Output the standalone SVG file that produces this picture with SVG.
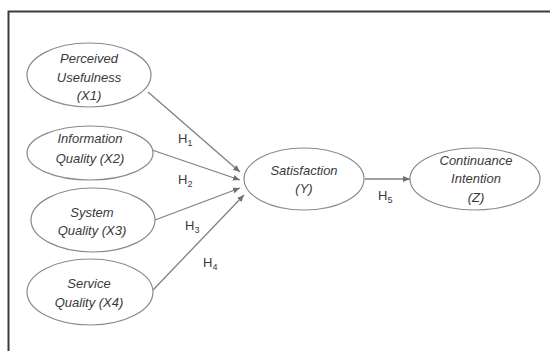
<svg xmlns="http://www.w3.org/2000/svg" width="550" height="351" viewBox="0 0 550 351">
<style>
.n ellipse{fill:#fff;stroke:#8a8a8a;stroke-width:1.2}
.n text{font-family:"Liberation Sans",Arial,sans-serif;font-style:italic;font-size:13px;fill:#3a3a3a;text-anchor:middle}
.c line{stroke:#808080;stroke-width:1.3;marker-end:url(#ah)}
.h{font-family:"Liberation Sans",Arial,sans-serif;font-size:13px;fill:#3a3a3a}
.h tspan{font-size:9px}
</style>
<defs>
<marker id="ah" markerWidth="8" markerHeight="8" refX="7" refY="4" orient="auto" markerUnits="userSpaceOnUse">
<path d="M0,1 L7,4 L0,7 z" fill="#707070"/>
</marker>
</defs>
<rect width="550" height="351" fill="#fff"/>
<path d="M8.5,351 V11.5 H550" fill="none" stroke="#3c3c3c" stroke-width="2"/>
<g class="c">
<line x1="148" y1="92" x2="240" y2="172"/>
<line x1="152" y1="150" x2="240" y2="180"/>
<line x1="155" y1="220" x2="240" y2="188"/>
<line x1="153" y1="290" x2="244" y2="195"/>
<line x1="365" y1="179" x2="410" y2="179"/>
</g>
<g id="x1" class="n"><ellipse cx="89" cy="75" rx="62" ry="32"/><text x="89" y="63">Perceived</text><text x="89" y="82">Usefulness</text><text x="89" y="100">(X1)</text></g>
<g id="x2" class="n"><ellipse cx="90" cy="153" rx="63" ry="27"/><text x="90" y="143">Information</text><text x="90" y="163">Quality (X2)</text></g>
<g id="x3" class="n"><ellipse cx="93" cy="220" rx="62" ry="32"/><text x="92" y="217">System</text><text x="92" y="235">Quality (X3)</text></g>
<g id="x4" class="n"><ellipse cx="90" cy="292" rx="63" ry="33"/><text x="89" y="288">Service</text><text x="89" y="307">Quality (X4)</text></g>
<g id="y" class="n"><ellipse cx="304" cy="179" rx="60" ry="31"/><text x="304" y="175">Satisfaction</text><text x="304" y="193">(Y)</text></g>
<g id="z" class="n"><ellipse cx="475" cy="179" rx="65" ry="31"/><text x="476" y="165">Continuance</text><text x="476" y="183">Intention</text><text x="476" y="202">(Z)</text></g>
<g id="labels">
<text class="h" x="178" y="143">H<tspan dy="3">1</tspan></text>
<text class="h" x="178" y="184">H<tspan dy="3">2</tspan></text>
<text class="h" x="185" y="230">H<tspan dy="3">3</tspan></text>
<text class="h" x="203" y="267">H<tspan dy="3">4</tspan></text>
<text class="h" x="378" y="200">H<tspan dy="3">5</tspan></text>
</g>
</svg>
